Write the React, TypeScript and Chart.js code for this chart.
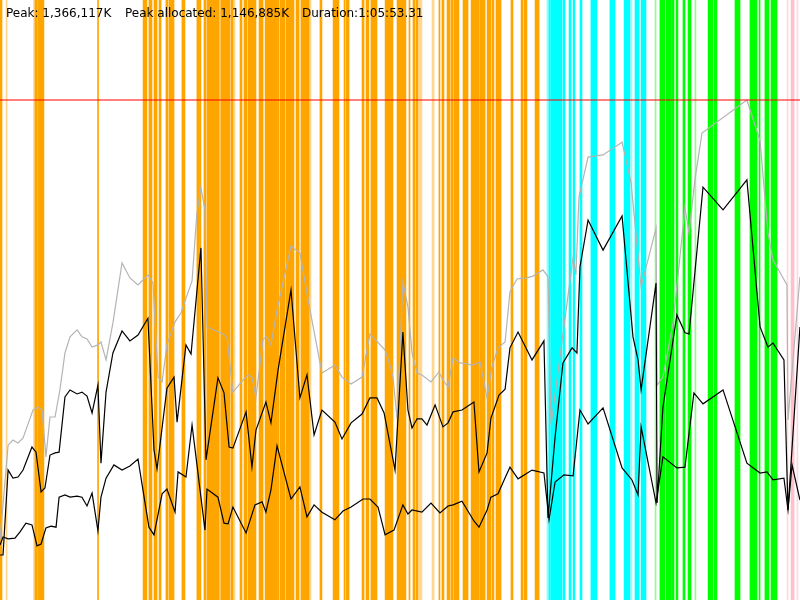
import React, { useEffect, useRef } from 'react';
import { Chart, registerables } from 'chart.js';

Chart.register(...registerables);

// ---- Data ----
const durationSec = 3953.31; // 1:05:53.31
const axisTopMB = 1639.34;
const peakHeapMB = 1366.117;
const headerLabels = ['Peak: 1,366,117K', 'Peak allocated: 1,146,885K', 'Duration:1:05:53.31'];

// total heap (grey)
const heapTime = [0, 40, 64, 89, 114, 163, 188, 208, 227, 247, 272, 296, 321, 346, 381, 405, 430, 455, 484, 499, 524, 558, 603, 642, 682, 731, 756, 781, 801, 825, 865, 894, 949, 973, 993, 1013, 1023, 1102, 1122, 1151, 1201, 1226, 1245, 1265, 1300, 1319, 1339, 1369, 1438, 1482, 1532, 1591, 1655, 1690, 1735, 1789, 1828, 1903, 1927, 1942, 1962, 1991, 2016, 2036, 2061, 2085, 2130, 2169, 2189, 2214, 2239, 2273, 2308, 2337, 2372, 2407, 2431, 2461, 2496, 2520, 2555, 2604, 2634, 2683, 2708, 2723, 2832, 2846, 2861, 2906, 2980, 3074, 3118, 3168, 3242, 3247, 3276, 3326, 3385, 3405, 3434, 3469, 3691, 3756, 3795, 3820, 3889, 3894, 3953];
const heapMB = [164, 423, 437, 429, 443, 519, 527, 519, 391, 500, 500, 574, 675, 719, 738, 719, 713, 691, 697, 705, 656, 757, 921, 880, 861, 888, 866, 609, 596, 697, 760, 784, 872, 1057, 1126, 1066, 746, 727, 716, 568, 601, 615, 609, 555, 713, 719, 697, 792, 967, 948, 792, 620, 642, 609, 590, 609, 727, 683, 642, 609, 497, 869, 801, 675, 620, 615, 596, 623, 601, 582, 661, 648, 645, 642, 650, 552, 637, 689, 705, 842, 877, 880, 885, 902, 883, 478, 937, 888, 1101, 1210, 1216, 1251, 1142, 855, 1016, 587, 609, 757, 1071, 1003, 1148, 1276, 1366, 1254, 1003, 929, 861, 492, 883];

// allocated (black, upper)
const allocTime = [0, 15, 40, 64, 89, 114, 158, 178, 203, 222, 247, 272, 292, 321, 346, 381, 405, 430, 455, 484, 499, 524, 558, 603, 642, 682, 731, 761, 776, 825, 860, 875, 919, 944, 993, 1018, 1077, 1107, 1132, 1151, 1216, 1245, 1265, 1314, 1339, 1374, 1438, 1482, 1517, 1552, 1591, 1655, 1690, 1735, 1789, 1828, 1863, 1898, 1952, 1991, 2016, 2036, 2061, 2085, 2110, 2150, 2189, 2214, 2239, 2283, 2342, 2367, 2407, 2426, 2466, 2496, 2520, 2560, 2629, 2688, 2708, 2743, 2782, 2827, 2851, 2866, 2906, 2980, 3074, 3128, 3153, 3168, 3242, 3247, 3276, 3345, 3385, 3405, 3474, 3573, 3691, 3756, 3795, 3820, 3874, 3894, 3953];
const allocMB = [123, 123, 355, 333, 336, 355, 418, 404, 295, 306, 396, 402, 404, 555, 574, 563, 568, 557, 511, 587, 374, 568, 675, 735, 708, 724, 770, 410, 358, 579, 609, 486, 697, 672, 962, 383, 607, 566, 418, 415, 514, 363, 464, 541, 484, 628, 847, 552, 615, 451, 519, 486, 440, 484, 508, 552, 552, 511, 355, 732, 519, 470, 495, 495, 478, 533, 473, 484, 514, 519, 541, 350, 402, 497, 560, 576, 689, 732, 656, 708, 224, 445, 648, 689, 675, 910, 1038, 956, 1049, 719, 656, 574, 866, 265, 527, 779, 730, 727, 1128, 1066, 1148, 746, 691, 702, 656, 246, 746];

// retained (black, lower)
const liveTime = [0, 15, 40, 74, 99, 128, 158, 183, 203, 227, 252, 277, 292, 321, 346, 381, 405, 430, 455, 484, 499, 524, 563, 603, 642, 682, 736, 761, 801, 825, 865, 880, 919, 949, 1013, 1023, 1077, 1107, 1127, 1151, 1216, 1260, 1295, 1314, 1339, 1369, 1438, 1482, 1517, 1552, 1591, 1655, 1695, 1735, 1794, 1828, 1868, 1903, 1947, 1991, 2016, 2036, 2085, 2130, 2174, 2214, 2239, 2283, 2342, 2367, 2407, 2426, 2461, 2500, 2520, 2560, 2629, 2688, 2713, 2743, 2787, 2832, 2866, 2906, 2980, 3074, 3123, 3153, 3168, 3242, 3276, 3345, 3385, 3429, 3474, 3573, 3691, 3756, 3790, 3820, 3874, 3894, 3914, 3953];
const liveMB = [150, 172, 167, 169, 186, 210, 205, 148, 153, 197, 202, 199, 281, 287, 281, 284, 281, 257, 292, 189, 281, 333, 369, 355, 366, 385, 199, 178, 290, 303, 240, 350, 336, 478, 191, 303, 281, 210, 208, 254, 183, 260, 268, 240, 301, 421, 276, 309, 227, 260, 240, 219, 243, 254, 276, 276, 254, 178, 191, 260, 235, 246, 240, 265, 238, 257, 260, 270, 216, 199, 246, 281, 290, 339, 363, 331, 355, 347, 219, 322, 342, 339, 519, 481, 525, 361, 328, 287, 473, 265, 391, 361, 363, 566, 536, 574, 374, 347, 350, 328, 333, 246, 369, 273];

// GC events (seconds)
const gcStart = [0, 30, 166, 173, 188, 482, 707, 736, 761, 786, 820, 835, 899, 973, 988, 1008, 1023, 1082, 1092, 1142, 1151, 1186, 1206, 1226, 1280, 1310, 1371, 1384, 1413, 1463, 1487, 1527, 1581, 1646, 1700, 1710, 1789, 1809, 1833, 1903, 1962, 2021, 2041, 2056, 2071, 2135, 2169, 2184, 2209, 2229, 2243, 2288, 2328, 2370, 2407, 2431, 2451, 2525, 2575, 2589, 2644, 2703, 2713, 2723, 2782, 2812, 2832, 2866, 2920, 3014, 3084, 3118, 3138, 3168, 3237, 3261, 3291, 3318, 3341, 3375, 3400, 3434, 3499, 3528, 3632, 3706, 3751, 3780, 3810, 3889, 3909, 3938];
const gcEnd = [10, 35, 173, 185, 217, 487, 726, 751, 776, 796, 830, 860, 914, 986, 993, 1018, 1082, 1092, 1137, 1151, 1161, 1196, 1221, 1265, 1300, 1369, 1379, 1408, 1453, 1478, 1527, 1537, 1591, 1675, 1705, 1725, 1799, 1823, 1863, 1942, 2006, 2026, 2051, 2066, 2085, 2145, 2174, 2194, 2224, 2239, 2268, 2313, 2366, 2397, 2426, 2441, 2476, 2535, 2584, 2604, 2664, 2711, 2720, 2777, 2792, 2822, 2841, 2876, 2950, 3039, 3113, 3123, 3158, 3192, 3242, 3286, 3316, 3331, 3350, 3385, 3415, 3439, 3523, 3543, 3657, 3741, 3756, 3800, 3840, 3894, 3924, 3943];
const gcKind = [
  'minor', 'minor-p', 'minor-p', 'minor', 'minor', 'minor', 'minor', 'minor', 'minor', 'minor',
  'minor', 'minor', 'minor', 'minor', 'minor', 'minor', 'minor', 'minor-p', 'minor', 'minor',
  'minor-p', 'minor', 'minor', 'minor', 'minor', 'minor', 'minor', 'minor', 'minor', 'minor',
  'minor', 'minor-p', 'minor', 'minor', 'minor', 'minor', 'minor', 'minor', 'minor', 'minor',
  'minor', 'minor', 'minor', 'minor', 'minor-p', 'minor-p', 'minor', 'minor', 'minor', 'minor',
  'minor', 'minor', 'minor', 'minor', 'minor', 'minor', 'minor', 'minor', 'minor', 'minor',
  'minor', 'conc-p', 'conc', 'conc', 'conc', 'conc', 'conc', 'conc', 'conc', 'conc',
  'conc', 'conc-p', 'conc', 'conc', 'full-p', 'full', 'full', 'full', 'full', 'full',
  'full', 'full-p', 'full', 'full', 'full', 'full', 'full', 'full', 'full', 'remark-p',
  'remark', 'remark-p',
];

// ---- Styles ----
const kindColor: Record<string, string> = {
  minor: '#FFA500',
  'minor-p': 'rgba(255,165,0,0.45)',
  conc: '#00FFFF',
  'conc-p': 'rgba(0,255,255,0.45)',
  full: '#00FF00',
  'full-p': 'rgba(0,255,0,0.45)',
  remark: '#FFC0CB',
  'remark-p': 'rgba(255,192,203,0.6)',
};
const headerX = [6, 125, 302];

const headerPlugin = {
  id: 'header',
  afterDatasetsDraw(chart: any) {
    const ctx = chart.ctx;
    ctx.save();
    ctx.font = '12px "DejaVu Sans"';
    ctx.fillStyle = '#000';
    ctx.textBaseline = 'alphabetic';
    headerLabels.forEach((s, i) => ctx.fillText(s, headerX[i], 17));
    ctx.restore();
  },
};

export default function App() {
  const ref = useRef<HTMLCanvasElement>(null);

  useEffect(() => {
    document.body.style.margin = '0';
    const canvas = ref.current;
    if (!canvas) return;

    const stripeSets = gcStart.map((s, i) => ({
      type: 'bar' as const,
      indexAxis: 'y' as const,
      xAxisID: 'x',
      yAxisID: 'yc',
      data: [[s, gcEnd[i]]],
      backgroundColor: kindColor[gcKind[i]],
      borderWidth: 0,
      borderSkipped: false,
      barPercentage: 1,
      categoryPercentage: 1,
      grouped: false,
      order: 10,
    }));

    const line = (t: number[], v: number[], color: string, width: number, order: number) => ({
      type: 'line' as const,
      xAxisID: 'x',
      yAxisID: 'y',
      data: t.map((x, i) => ({ x, y: v[i] })),
      borderColor: color,
      borderWidth: width,
      pointRadius: 0,
      tension: 0,
      fill: false,
      order,
    });

    const chart = new Chart(canvas, {
      type: 'line',
      data: {
        datasets: [
          ...stripeSets,
          line(heapTime, heapMB, '#b4b4b4', 1.2, 3),
          line(allocTime, allocMB, '#000000', 1.2, 2),
          line(liveTime, liveMB, '#000000', 1.2, 1),
          line([0, durationSec], [peakHeapMB, peakHeapMB], 'rgba(255,0,0,0.5)', 2, 0),
        ] as any,
      },
      options: {
        animation: false,
        responsive: false,
        events: [],
        layout: { padding: 0 },
        plugins: {
          legend: { display: false },
          tooltip: { enabled: false },
          title: { display: false },
        },
        scales: {
          x: { type: 'linear', min: 0, max: durationSec, display: false, offset: false },
          y: { type: 'linear', min: 0, max: axisTopMB, display: false, offset: false },
          yc: { type: 'category', labels: ['gc'], display: false, offset: true },
        },
      } as any,
      plugins: [headerPlugin],
    });

    return () => chart.destroy();
  }, []);

  return (
    <div style={{ width: 800, height: 600, position: 'relative', background: '#fff' }}>
      <canvas ref={ref} width={800} height={600} style={{ display: 'block' }} />
    </div>
  );
}
